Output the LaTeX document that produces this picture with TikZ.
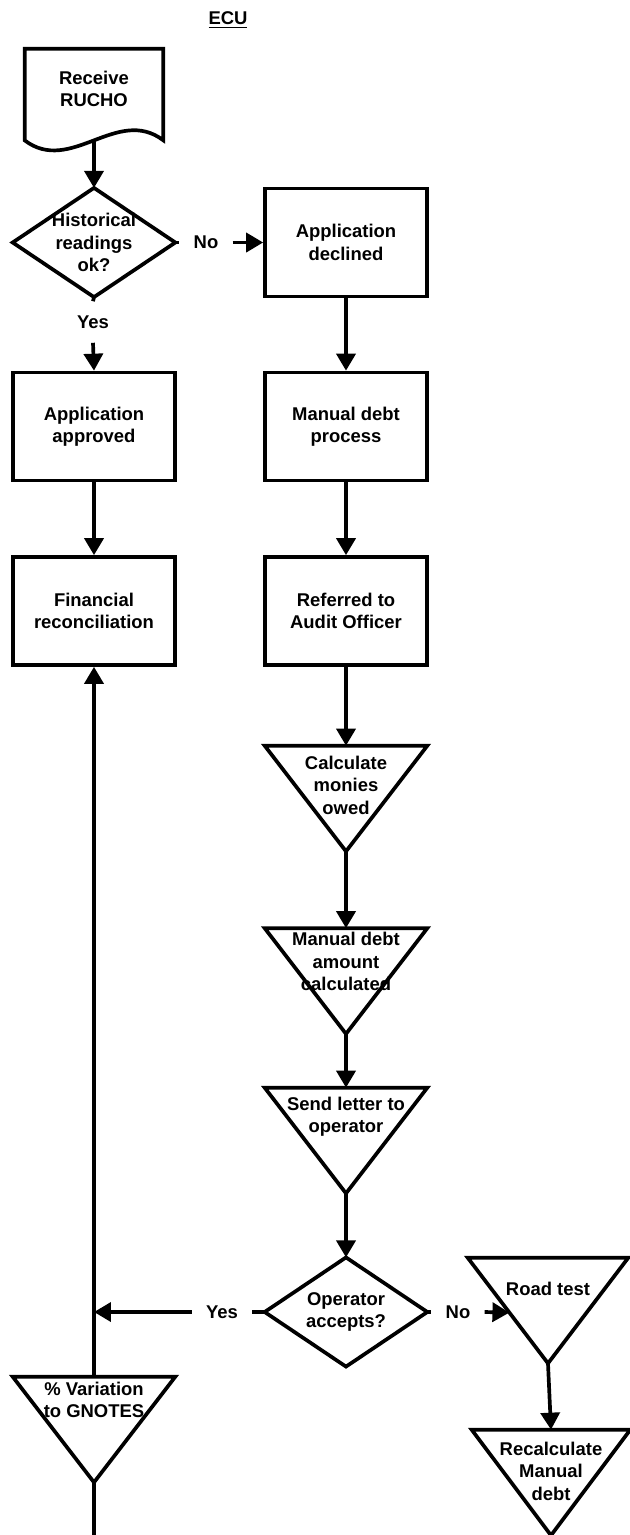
\documentclass[tikz,border=0pt]{standalone}
\usepackage{fontspec}
\setmainfont{Liberation Sans}
\usepackage{tikz}
\usetikzlibrary{arrows.meta,calc}

\begin{document}
\begin{tikzpicture}[x=0.02cm, y=-0.02cm,
        every node/.style = {font=\fontsize{10.5}{12.8}\selectfont\bfseries, align=center},
        box/.style = {draw, line width=2.1pt, minimum width=3.24cm, minimum height=2.16cm, inner sep=0pt},
        tri/.style = {minimum width=3.24cm, minimum height=2.1cm, inner sep=0pt},
        dia/.style = {minimum width=3.24cm, minimum height=2.17cm, inner sep=0pt},
        doc/.style = {minimum width=2.76cm, minimum height=1.82cm, inner sep=0pt},
        tlabel/.style = {anchor=north, inner sep=0pt, yshift=#1},
        lbl/.style = {inner sep=0.28cm},
        line/.style = {line width=2.1pt},
        arr/.style = {line width=2.1pt, -{Triangle[length=0.34cm, width=0.38cm]}}]
    \useasboundingbox (0,0) rectangle (629,1535);

    \node (ecu) at (228,20) {\underline{ECU}};

    % left column
    \node[doc, label={[tlabel=-0.44cm]north:{Receive\\RUCHO}}] (rucho) at (94,94.5) {};
    \node[dia] (hist) at (94,242.5) {Historical\\readings\\ok?};
    \node[lbl] (no1) at (206,242.5) {No};
    \node[lbl] (yes1) at (93,322) {Yes};
    \node[box] (appr) at (94,426.5) {Application\\approved};
    \node[box] (fin) at (94,611) {Financial\\reconciliation};
    \node[tri, label={[tlabel=-0.1cm]north:{\% Variation\\to GNOTES}}] (var) at (94,1429.5) {};
    \coordinate (end) at (94,1535);

    % middle column
    \node[box] (decl) at (346,242.5) {Application\\declined};
    \node[box] (manual) at (346,426.5) {Manual debt\\process};
    \node[box] (audit) at (346,611) {Referred to\\Audit Officer};
    \node[tri, label={[tlabel=-0.2cm]north:{Calculate\\monies\\owed}}] (calc) at (346,798.5) {};
    \node[tri, label={[tlabel=-0.08cm]north:{Manual debt\\amount\\calculated}}] (amount) at (346,981) {};
    \node[tri, label={[tlabel=-0.18cm]north:{Send letter to\\operator}}] (letter) at (346,1140.5) {};
    \node[dia] (accept) at (346,1312) {Operator\\accepts?};
    \node[lbl] (yes2) at (222,1312) {Yes};
    \node[lbl] (no2) at (458,1312) {No};

    % right column
    \node[tri, minimum width=3.2cm, label={[tlabel=-0.48cm]north:{Road test}}] (road) at (548,1310.5) {};
    \node[tri, minimum width=3.16cm, label={[tlabel=-0.24cm]north:{Recalculate\\Manual\\debt}}] (recalc) at (551,1482.5) {};

    % outlines
    \draw[line] (rucho.south west) -- (rucho.north west) -- (rucho.north east) -- (rucho.south east)
        .. controls +(-46,-35) and +(46,35) .. (rucho.south west) -- cycle;
    \foreach \n in {hist, accept}
        \draw[line] (\n.north) -- (\n.east) -- (\n.south) -- (\n.west) -- cycle;
    \foreach \n in {calc, amount, letter, road, var, recalc}
        \draw[line] (\n.north west) -- (\n.north east) -- (\n.south) -- cycle;

    % connectors
    \draw[arr] (rucho.south) -- (hist.north);
    \draw[line] (hist.east) -- (no1.west);
    \draw[arr] (no1.east) -- (decl.west);
    \draw[line] (hist.south) -- (yes1.north);
    \draw[arr] (yes1.south) -- (appr.north);
    \draw[arr] (appr.south) -- (fin.north);
    \draw[arr] (decl.south) -- (manual.north);
    \draw[arr] (manual.south) -- (audit.north);
    \draw[arr] (audit.south) -- (calc.north);
    \draw[arr] (calc.south) -- (amount.north);
    \draw[arr] (amount.south) -- (letter.north);
    \draw[arr] (letter.south) -- (accept.north);
    \draw[line] (accept.west) -- (yes2.east);
    \draw[arr] (yes2.west) -- (yes2.west -| fin.south);
    \draw[line] (accept.east) -- (no2.west);
    \draw[arr] (no2.east) -- ($(road.north west)!0.52!(road.south)$);
    \draw[arr] (road.south) -- (recalc.north);
    \draw[arr] (var.north) -- (fin.south);
    \draw[line] (var.south) -- (end);
\end{tikzpicture}
\end{document}
